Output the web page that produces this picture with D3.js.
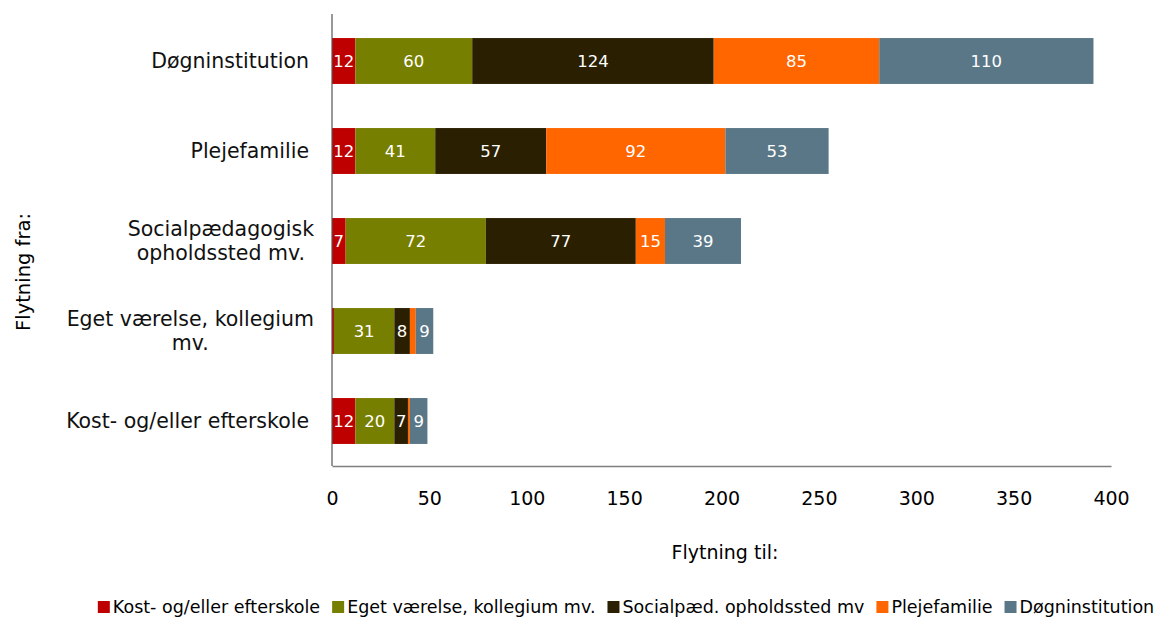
<!DOCTYPE html>
<html><head><meta charset="utf-8">
<script src="https://cdn.jsdelivr.net/npm/d3@7"></script>
<style>body{margin:0;background:#fff}svg{display:block}text{font-family:"DejaVu Sans",Verdana,sans-serif}</style>
</head><body><svg id="c" width="1156" height="617"></svg>
<script>
const categories = ["Døgninstitution","Plejefamilie","Socialpædagogisk opholdssted mv.","Eget værelse, kollegium mv.","Kost- og/eller efterskole"];
const categoryLines = [["Døgninstitution"],["Plejefamilie"],["Socialpædagogisk","opholdssted mv."],["Eget værelse, kollegium","mv."],["Kost- og/eller efterskole"]];
const seriesNames = ["Kost- og/eller efterskole","Eget værelse, kollegium mv.","Socialpæd. opholdssted mv","Plejefamilie","Døgninstitution"];
const kost = [12,12,7,1,12];
const eget = [60,41,72,31,20];
const socialpaed = [124,57,77,8,7];
const pleje = [85,92,15,3,1];
const doegn = [110,53,39,9,9];
const xTicks = [0,50,100,150,200,250,300,350,400];
const colors = ["#BF0000","#777F00","#2A1F00","#FF6600","#5A7787"];
const series = [kost,eget,socialpaed,pleje,doegn];

const svg = d3.select("#c");
const m = {left:332, right:1111, top:16, bottom:466};
const x = d3.scaleLinear().domain([0,400]).range([m.left,m.right]);
const y = d3.scaleBand().domain(categories).range([m.top,m.bottom]).paddingInner(0.49).paddingOuter(0.245);

const rows = categories.map((c,i)=>{const o={cat:c}; seriesNames.forEach((s,j)=>o[s]=series[j][i]); return o;});
const stacked = d3.stack().keys(seriesNames)(rows);

const g = svg.append("g");
stacked.forEach((layer,j)=>{
  const lg = g.append("g");
  lg.selectAll("rect").data(layer).join("rect")
    .attr("x",d=>x(d[0])).attr("width",d=>x(d[1])-x(d[0]))
    .attr("y",d=>y(d.data.cat)).attr("height",y.bandwidth())
    .attr("fill",colors[j]);
  lg.selectAll("text").data(layer.filter(d=>d[1]-d[0]>=5)).join("text")
    .attr("x",d=>(x(d[0])+x(d[1]))/2).attr("y",d=>y(d.data.cat)+y.bandwidth()/2)
    .attr("text-anchor","middle").attr("dominant-baseline","central")
    .attr("fill","#fff").attr("font-size",16.5)
    .text(d=>d[1]-d[0]);
});

// axes
const xAxis = d3.axisBottom(x).tickValues(xTicks).tickSize(0).tickPadding(26);
const xg = svg.append("g").attr("transform",`translate(0,${m.bottom})`).call(xAxis);
xg.select(".domain").attr("stroke","#7f7f7f").attr("stroke-width",1.5);
xg.selectAll("text").attr("font-size",19).attr("fill","#000").attr("font-family","DejaVu Sans");

svg.append("line").attr("x1",m.left).attr("x2",m.left).attr("y1",m.top-2).attr("y2",m.bottom)
  .attr("stroke","#555").attr("stroke-width",1.2);

// category labels
const fs = 20.5;
categoryLines.forEach((lines,i)=>{
  const cy = y(categories[i])+y.bandwidth()/2;
  const t = svg.append("text").attr("font-size",fs).attr("fill","#111");
  if(lines.length===1){
    t.attr("x",309).attr("y",cy).attr("text-anchor","end").attr("dominant-baseline","central").text(lines[0]);
  } else {
    t.attr("text-anchor","middle");
    const tmp = lines.map(l=>{const s=svg.append("text").attr("font-size",fs).text(l); const w=s.node().getComputedTextLength(); s.remove(); return w;});
    const mw = d3.max(tmp);
    const cx = 314 - mw/2;
    lines.forEach((l,k)=>{
      t.append("tspan").attr("x",cx).attr("y",cy + (k-(lines.length-1)/2)*24).attr("dominant-baseline","central").text(l);
    });
  }
});

// axis titles
svg.append("text").attr("x",725).attr("y",552).attr("text-anchor","middle").attr("dominant-baseline","central")
  .attr("font-size",19).text("Flytning til:");
svg.append("text").attr("transform","translate(23,272) rotate(-90)").attr("text-anchor","middle").attr("dominant-baseline","central")
  .attr("font-size",19.5).text("Flytning fra:");

// legend
const leg = svg.append("g");
let lx = 0;
const gap = 12;
seriesNames.forEach((s,j)=>{
  const it = leg.append("g").attr("transform",`translate(${lx},0)`);
  it.append("rect").attr("x",0).attr("y",-6).attr("width",12).attr("height",12).attr("fill",colors[j]);
  const t = it.append("text").attr("x",15).attr("y",0).attr("dominant-baseline","central").attr("font-size",17.5).text(s);
  lx += 15 + t.node().getComputedTextLength() + gap;
});
const total = lx - gap;
leg.attr("transform",`translate(${626-total/2},607)`);
</script></body></html>
